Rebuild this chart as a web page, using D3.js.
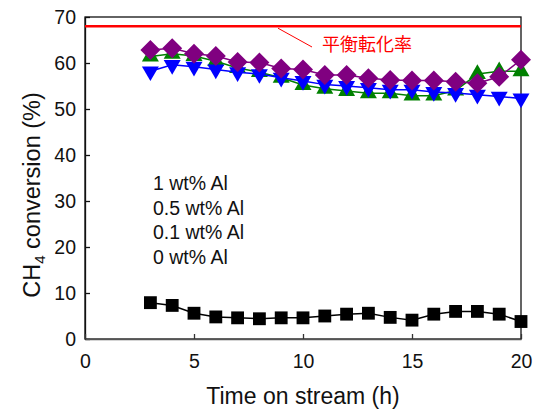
<!DOCTYPE html>
<html>
<head>
<meta charset="utf-8">
<script src="https://cdn.jsdelivr.net/npm/d3@7"></script>
<style>
  body { margin: 0; background: #fff; }
  text { font-family: "Liberation Sans", Arial, sans-serif; }
</style>
</head>
<body>
<div id="chart"></div>
<script>
// time on stream (h)
const hours = [3, 4, 5, 6, 7, 8, 9, 10, 11, 12, 13, 14, 15, 16, 17, 18, 19, 20];
// CH4 conversion (%) for each Al loading
const al1 = [62.8, 63.2, 62.0, 61.5, 60.2, 60.1, 58.8, 58.6, 57.4, 57.4, 56.7, 56.3, 56.2, 56.2, 55.9, 55.6, 57.0, 60.7];
const al05 = [61.4, 62.0, 61.5, 60.4, 58.9, 58.0, 56.8, 55.2, 54.4, 53.9, 53.4, 53.4, 52.9, 52.9, 54.0, 57.6, 58.2, 58.2];
const al01 = [58.2, 59.6, 59.2, 58.6, 58.0, 57.6, 56.8, 56.1, 55.3, 55.0, 54.6, 54.2, 54.2, 53.7, 53.5, 53.1, 52.7, 52.3];
const al0 = [7.9, 7.3, 5.6, 4.8, 4.6, 4.4, 4.6, 4.6, 5.0, 5.4, 5.6, 4.7, 4.1, 5.4, 6.0, 6.0, 5.4, 3.8];
const equilibrium = 68;
const legendLabels = ["1 wt% Al", "0.5 wt% Al", "0.1 wt% Al", "0 wt% Al"];
const xTicks = [0, 5, 10, 15, 20];
const yTicks = [0, 10, 20, 30, 40, 50, 60, 70];

const W = 538, H = 410;
const margin = { top: 17, right: 17, bottom: 71, left: 85 };

const svg = d3.select("#chart").append("svg")
  .attr("width", W)
  .attr("height", H);

const x = d3.scaleLinear().domain([0, 20]).range([margin.left, W - margin.right]);
const y = d3.scaleLinear().domain([0, 70]).range([H - margin.bottom, margin.top]);

// frame
svg.append("rect")
  .attr("x", x(0)).attr("y", y(70))
  .attr("width", x(20) - x(0)).attr("height", y(0) - y(70))
  .attr("fill", "none").attr("stroke", "#111").attr("stroke-width", 1.3);

const yAxis = svg.append("g")
  .attr("transform", `translate(${x(0)},0)`)
  .call(d3.axisLeft(y).tickValues(yTicks).tickSizeInner(-5).tickSizeOuter(0).tickPadding(9));
yAxis.select(".domain").attr("stroke", "#111").attr("stroke-width", 1.3);
yAxis.selectAll(".tick line").attr("stroke", "#111").attr("stroke-width", 1.3);
yAxis.selectAll("text").attr("font-size", 19.5).attr("fill", "#111")
  .style("font-family", "'Liberation Sans', Arial, sans-serif");

const xAxis = svg.append("g")
  .attr("transform", `translate(0,${y(0)})`)
  .call(d3.axisBottom(x).tickValues(xTicks).tickSizeInner(-5).tickSizeOuter(0).tickPadding(15));
xAxis.select(".domain").attr("stroke", "#555").attr("stroke-width", 1.5);
xAxis.selectAll(".tick line").attr("stroke", "#333").attr("stroke-width", 1.3);
xAxis.selectAll("text").attr("font-size", 19.5).attr("fill", "#111")
  .style("font-family", "'Liberation Sans', Arial, sans-serif");

// axis titles
svg.append("text")
  .attr("x", x(10)).attr("y", 404)
  .attr("text-anchor", "middle")
  .attr("font-size", 23).attr("fill", "#111")
  .text("Time on stream (h)");

const yt = svg.append("text")
  .attr("transform", "translate(40,195) rotate(-90)")
  .attr("text-anchor", "middle")
  .attr("font-size", 23.5).attr("fill", "#111");
yt.append("tspan").text("CH");
yt.append("tspan").attr("font-size", 15).attr("dy", 5).text("4");
yt.append("tspan").attr("dy", -5).text(" conversion (%)");

// equilibrium line
svg.append("line")
  .attr("x1", x(0)).attr("x2", x(20))
  .attr("y1", y(equilibrium)).attr("y2", y(equilibrium))
  .attr("stroke", "#ff0000").attr("stroke-width", 2.5);

svg.append("line")
  .attr("x1", 278).attr("y1", y(equilibrium) + 2)
  .attr("x2", 312).attr("y2", 47)
  .attr("stroke", "#ff0000").attr("stroke-width", 1);

svg.append("text")
  .attr("x", 322).attr("y", 51)
  .attr("font-size", 18).attr("fill", "#ff0000")
  .style("font-family", "'Noto Sans CJK JP', sans-serif")
  .text("平衡転化率");

// series
const series = [
  { vals: al0, color: "#000000", shape: d3.symbolSquare, size: 165, rot: 0 },
  { vals: al05, color: "#008000", shape: d3.symbolTriangle, size: 125, rot: 0 },
  { vals: al01, color: "#0000ff", shape: d3.symbolTriangle, size: 125, rot: 180 },
  { vals: al1, color: "#800080", shape: d3.symbolSquare, size: 200, rot: 45 }
];

const line = d3.line().x((d, i) => x(hours[i])).y(d => y(d));

series.forEach(s => {
  const g = svg.append("g");
  g.append("path")
    .datum(s.vals)
    .attr("d", line)
    .attr("fill", "none")
    .attr("stroke", s.color)
    .attr("stroke-width", 1.5);
  g.selectAll("path.pt")
    .data(s.vals)
    .enter().append("path")
    .attr("class", "pt")
    .attr("d", d3.symbol().type(s.shape).size(s.size))
    .attr("transform", (d, i) => `translate(${x(hours[i])},${y(d)}) rotate(${s.rot})`)
    .attr("fill", s.color);
});

// legend text
svg.selectAll("text.leg")
  .data(legendLabels)
  .enter().append("text")
  .attr("class", "leg")
  .attr("x", 153)
  .attr("y", (d, i) => 190 + i * 24.7)
  .attr("font-size", 19.5).attr("fill", "#111")
  .text(d => d);
</script>
</body>
</html>
